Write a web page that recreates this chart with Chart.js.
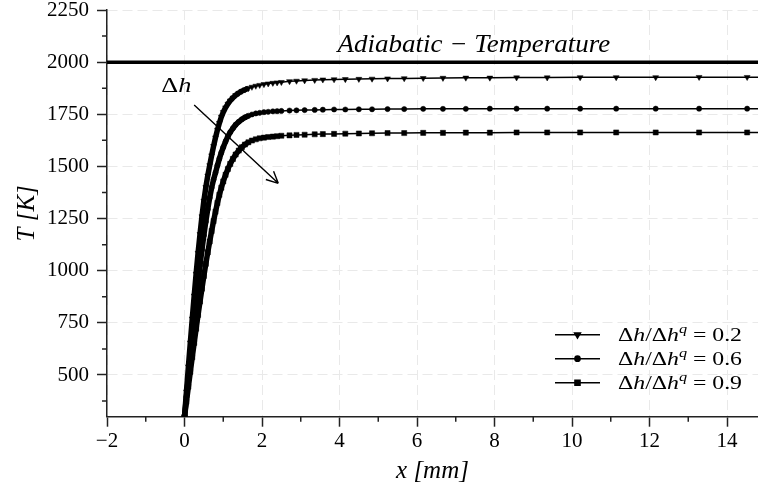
<!DOCTYPE html>
<html>
<head>
<meta charset="utf-8">
<script src="https://cdn.jsdelivr.net/npm/chart.js@4.4.0/dist/chart.umd.min.js"></script>
<style>
    html, body { margin: 0; padding: 0; background: #fff; }
    #wrap { width: 758px; height: 492px; }
</style>
</head>
<body>
<div id="wrap"><canvas id="tempChart" width="758" height="492"></canvas></div>
<script>
/* ── Data ─────────────────────────────────────────────────────── */

// solver nodes along the domain [mm], shared by all three profiles
const xNodes = [
    0, 0.05, 0.1, 0.15, 0.2, 0.25, 0.3, 0.35, 0.4, 0.45,
    0.5, 0.55, 0.6, 0.65, 0.7, 0.75, 0.8, 0.85, 0.9, 0.95,
    1.0, 1.06, 1.12, 1.18, 1.25, 1.32, 1.4, 1.48, 1.56, 1.65,
    1.74, 1.84, 1.94, 2.05, 2.16, 2.28, 2.39, 2.5, 2.71, 2.89,
    3.1, 3.36, 3.57, 3.86, 4.15, 4.5, 4.84, 5.24, 5.67, 6.16,
    6.67, 7.26, 7.88, 8.57, 9.36, 10.21, 11.14, 12.16, 13.28, 14.52,
    15.9
];

// T [K] for dh/dh^q = 0.2
const tempRatio02 = [
    300, 420, 540, 655, 770, 880, 985, 1085, 1175, 1260,
    1335, 1400, 1455, 1505, 1552, 1597, 1638, 1675, 1708, 1737,
    1760, 1782, 1800, 1815, 1829, 1841, 1852, 1861, 1868, 1875,
    1881, 1886, 1890, 1894, 1897, 1900, 1902, 1904, 1908, 1910,
    1912, 1914, 1916, 1917, 1918, 1919, 1920, 1921, 1922, 1923,
    1924, 1925, 1925, 1926, 1926, 1927, 1927, 1927, 1928, 1928,
    1928
];

// T [K] for dh/dh^q = 0.6
const tempRatio06 = [
    300, 395, 490, 585, 680, 770, 860, 945, 1025, 1100,
    1170, 1235, 1295, 1350, 1398, 1437, 1470, 1505, 1537, 1566,
    1592, 1620, 1644, 1664, 1683, 1700, 1714, 1726, 1735, 1743,
    1749, 1754, 1757, 1760, 1762, 1764, 1765, 1766, 1768, 1769,
    1770, 1771, 1772, 1773, 1773, 1774, 1774, 1775, 1775, 1776,
    1776, 1776, 1777, 1777, 1777, 1777, 1777, 1777, 1777, 1777,
    1777
];

// T [K] for dh/dh^q = 0.9
const tempRatio09 = [
    300, 372, 444, 515, 585, 654, 722, 788, 852, 914,
    975, 1033, 1088, 1140, 1190, 1238, 1283, 1325, 1364, 1398,
    1428, 1460, 1488, 1512, 1536, 1557, 1576, 1592, 1605, 1616,
    1624, 1630, 1635, 1638, 1641, 1643, 1645, 1647, 1649, 1651,
    1652, 1654, 1655, 1656, 1657, 1658, 1659, 1660, 1660, 1661,
    1661, 1662, 1662, 1663, 1663, 1663, 1663, 1663, 1663, 1663,
    1663
];

const ratioLabels  = ['0.2', '0.6', '0.9'];
const adiabaticT   = 2000;
const adiabaticX   = [-2, 16];

const xTicks       = [-2, 0, 2, 4, 6, 8, 10, 12, 14];
const xMinorTicks  = [-1, 1, 3, 5, 7, 9, 11, 13];
const yTicks       = [500, 750, 1000, 1250, 1500, 1750, 2000, 2250];
const yMinorTicks  = [375, 625, 875, 1125, 1375, 1625, 1875, 2125];

/* ── Styling ──────────────────────────────────────────────────── */

const SERIF      = '"Liberation Serif", "DejaVu Serif", serif';
const INK        = '#000';
const AXIS_COLOR = '#222';
const GRID_COLOR = '#e9e9e9';

const markers = [
    { style: 'triangle', rotation: 180, radius: 3.4 },
    { style: 'circle',   rotation: 0,   radius: 2.6 },
    { style: 'rect',     rotation: 0,   radius: 3.6 }
];

const toPoints = vals => xNodes.map((x, i) => ({ x, y: vals[i] }));

const profileSets = [tempRatio02, tempRatio06, tempRatio09].map((vals, i) => ({
    label: ratioLabels[i],
    data: toPoints(vals),
    borderColor: INK,
    backgroundColor: INK,
    borderWidth: 1.5,
    borderJoinStyle: 'round',
    pointStyle: markers[i].style,
    pointRotation: markers[i].rotation,
    pointRadius: markers[i].radius,
    pointBorderWidth: 0.5,
    // where the nodes crowd together the markers merge into a heavy line
    segment: { borderWidth: c => (c.p0.parsed.x < 1.6 ? 5.5 : 1.5) }
}));

const adiabaticSet = {
    label: 'adiabatic',
    data: adiabaticX.map(x => ({ x, y: adiabaticT })),
    borderColor: INK,
    borderWidth: 3.5,
    pointRadius: 0
};

/* ── Text helper (mixed upright / italic / superscript) ───────── */

function drawRich(ctx, parts, x, y, size, align, stretch) {
    const fontFor = p => `${p.it ? 'italic ' : ''}${Math.round(size * (p.sup ? 0.7 : 1))}px ${SERIF}`;
    let total = 0;
    parts.forEach(p => { ctx.font = fontFor(p); total += ctx.measureText(p.t).width; });
    ctx.save();
    ctx.translate(x, y);
    ctx.scale(stretch, 1);
    let cx = align === 'center' ? -total / 2 : 0;
    ctx.textAlign = 'left';
    ctx.textBaseline = 'alphabetic';
    ctx.fillStyle = INK;
    parts.forEach(p => {
        ctx.font = fontFor(p);
        ctx.fillText(p.t, cx, p.sup ? -size * 0.38 : 0);
        cx += ctx.measureText(p.t).width;
    });
    ctx.restore();
}

/* ── Overlay: minor ticks, annotations, legend ────────────────── */

const overlayPlugin = {
    id: 'overlay',
    afterDraw(chart) {
        const { ctx, chartArea: area, scales: { x, y } } = chart;
        ctx.save();

        // minor ticks
        ctx.strokeStyle = AXIS_COLOR;
        ctx.lineWidth = 1.5;
        ctx.beginPath();
        xMinorTicks.forEach(v => {
            const px = x.getPixelForValue(v);
            ctx.moveTo(px, area.bottom);
            ctx.lineTo(px, area.bottom + 5);
        });
        yMinorTicks.forEach(v => {
            const py = y.getPixelForValue(v);
            ctx.moveTo(area.left, py);
            ctx.lineTo(area.left - 5, py);
        });
        ctx.stroke();

        // adiabatic label
        drawRich(ctx, [{ t: 'Adiabatic \u2212 Temperature', it: true }],
            x.getPixelForValue(7.47), y.getPixelForValue(2047), 25, 'center', 1.08);

        // Δh label and arrow
        drawRich(ctx, [{ t: '\u0394' }, { t: 'h', it: true }],
            x.getPixelForValue(-0.6), y.getPixelForValue(1857), 21, 'left', 1.25);

        const ax0 = x.getPixelForValue(0.25), ay0 = y.getPixelForValue(1795);
        const ax1 = x.getPixelForValue(2.42), ay1 = y.getPixelForValue(1419);
        const ang = Math.atan2(ay1 - ay0, ax1 - ax0);
        ctx.strokeStyle = INK;
        ctx.lineWidth = 1.4;
        ctx.beginPath();
        ctx.moveTo(ax0, ay0);
        ctx.lineTo(ax1, ay1);
        [-0.45, 0.45].forEach(d => {
            ctx.moveTo(ax1, ay1);
            ctx.lineTo(ax1 - 13 * Math.cos(ang + d), ay1 - 13 * Math.sin(ang + d));
        });
        ctx.stroke();

        // legend
        profileSets.forEach((ds, i) => {
            const rowY = area.bottom - 82 + i * 24;
            const lx0 = area.right - 203, lx1 = area.right - 158;
            ctx.strokeStyle = INK;
            ctx.lineWidth = 1.5;
            ctx.beginPath();
            ctx.moveTo(lx0, rowY);
            ctx.lineTo(lx1, rowY);
            ctx.stroke();
            ctx.fillStyle = INK;
            Chart.helpers.drawPoint(ctx, {
                pointStyle: markers[i].style,
                rotation: markers[i].rotation,
                radius: markers[i].radius,
                borderWidth: 0.5
            }, (lx0 + lx1) / 2, rowY);
            drawRich(ctx, [
                { t: '\u0394' }, { t: 'h', it: true }, { t: '/\u0394' }, { t: 'h', it: true },
                { t: 'q', it: true, sup: true }, { t: ' = ' + ds.label }
            ], area.right - 140, rowY + 6, 19, 'left', 1.25);
        });

        ctx.restore();
    }
};

/* ── Chart ────────────────────────────────────────────────────── */

const tickFont = { family: SERIF, size: 21 };
const fmtTick  = v => (v < 0 ? '\u2212' + Math.abs(v) : String(v));

new Chart(document.getElementById('tempChart'), {
    type: 'line',
    data: { datasets: [adiabaticSet, ...profileSets] },
    options: {
        responsive: false,
        animation: false,
        layout: { autoPadding: false, padding: { top: 10, right: 0, bottom: 0, left: 0 } },
        plugins: { legend: { display: false }, tooltip: { enabled: false } },
        scales: {
            x: {
                type: 'linear',
                min: -2,
                max: 14.8,
                afterBuildTicks: s => { s.ticks = xTicks.map(v => ({ value: v })); },
                afterFit: s => { s.height = 75.3; s.paddingLeft = 0; s.paddingRight = 0; },
                ticks: { font: tickFont, color: INK, padding: 2, maxRotation: 0, callback: fmtTick },
                grid: { color: GRID_COLOR, tickColor: AXIS_COLOR, tickLength: 10, tickWidth: 1.5 },
                border: { color: AXIS_COLOR, width: 1.5, dash: [10, 5] },
                title: {
                    display: true, text: 'x [mm]', color: INK,
                    font: { family: SERIF, size: 25, style: 'italic' },
                    padding: { top: 0, bottom: 6 }
                }
            },
            y: {
                type: 'linear',
                min: 300,
                max: 2250,
                afterBuildTicks: s => { s.ticks = yTicks.map(v => ({ value: v })); },
                afterFit: s => { s.width = 107; s.paddingTop = 0; s.paddingBottom = 0; },
                ticks: { font: tickFont, color: INK, padding: 8, callback: fmtTick },
                grid: { color: GRID_COLOR, tickColor: AXIS_COLOR, tickLength: 10, tickWidth: 1.5 },
                border: { color: AXIS_COLOR, width: 1.5, dash: [10, 5] },
                title: {
                    display: true, text: 'T [K]', color: INK,
                    font: { family: SERIF, size: 25, style: 'italic' },
                    padding: { top: 12, bottom: 0 }
                }
            }
        }
    },
    plugins: [overlayPlugin]
});
</script>
</body>
</html>
